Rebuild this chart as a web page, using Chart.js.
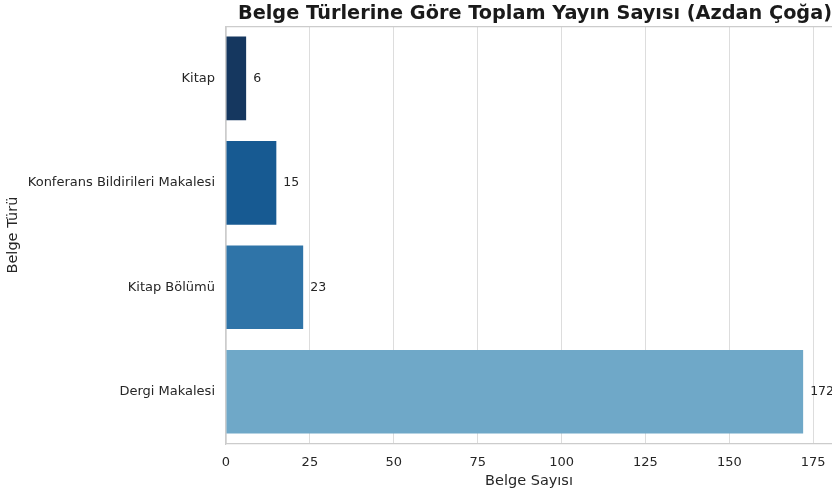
<!DOCTYPE html>
<html>
<head>
<meta charset="utf-8">
<script src="https://cdn.jsdelivr.net/npm/chart.js@4"></script>
<style>
  body { margin: 0; background: #fff; }
  #wrap { width: 832px; height: 490px; }
</style>
</head>
<body>
<div id="wrap"><canvas id="chart" width="832" height="490"></canvas></div>
<script>
const categories = ['Kitap', 'Konferans Bildirileri Makalesi', 'Kitap Bölümü', 'Dergi Makalesi'];
const counts = [6, 15, 23, 172];
const barColors = ['#15375f', '#175a92', '#2f74a8', '#6fa8c8'];
const xTicks = [0, 25, 50, 75, 100, 125, 150, 175];

const font = 'DejaVu Sans';

// top spine plus value labels next to bars
const extras = {
  id: 'extras',
  afterDatasetsDraw(chart) {
    const c = chart.ctx, a = chart.chartArea;
    c.save();
    c.strokeStyle = '#cccccc';
    c.lineWidth = 1.2;
    c.beginPath();
    c.moveTo(a.left, a.top + 0.5);
    c.lineTo(a.right, a.top + 0.5);
    c.stroke();
    c.fillStyle = '#262626';
    c.font = '12.5px "' + font + '"';
    c.textBaseline = 'middle';
    c.textAlign = 'left';
    chart.getDatasetMeta(0).data.forEach((bar, i) => {
      c.fillText(String(counts[i]), bar.x + 7, bar.y);
    });
    c.restore();
  }
};

new Chart(document.getElementById('chart'), {
  type: 'bar',
  data: {
    labels: categories,
    datasets: [{
      data: counts,
      backgroundColor: barColors,
      borderWidth: 0,
      barPercentage: 0.8,
      categoryPercentage: 1.0
    }]
  },
  options: {
    indexAxis: 'y',
    responsive: false,
    animation: false,
    plugins: {
      legend: { display: false },
      tooltip: { enabled: false },
      title: {
        display: true,
        text: 'Belge Türlerine Göre Toplam Yayın Sayısı (Azdan Çoğa)',
        align: 'end',
        color: '#1a1a1a',
        font: { family: font, size: 19.3, weight: 'bold', lineHeight: 1.2 },
        padding: { top: 2, bottom: 1 }
      }
    },
    scales: {
      x: {
        min: 0,
        max: 180.6,
        afterBuildTicks: s => { s.ticks = xTicks.map(v => ({ value: v })); },
        afterFit: s => { s.height = 46; s.paddingRight = 0; },
        grid: { color: '#dddddd', lineWidth: 1, drawTicks: false },
        border: { color: '#cccccc', width: 1.2 },
        ticks: { color: '#262626', padding: 11, font: { family: font, size: 13 } },
        title: {
          display: true, text: 'Belge Sayısı', color: '#262626',
          font: { family: font, size: 14.5 }, padding: { top: 2, bottom: 0 }
        }
      },
      y: {
        afterFit: s => { s.width = 226; },
        grid: { display: false, drawTicks: false },
        border: { color: '#cccccc', width: 1.2 },
        ticks: { color: '#262626', padding: 11, font: { family: font, size: 13 } },
        title: {
          display: true, text: 'Belge Türü', color: '#262626',
          font: { family: font, size: 14.5 }, padding: { top: 5, bottom: 0 }
        }
      }
    }
  },
  plugins: [extras]
});
</script>
</body>
</html>
